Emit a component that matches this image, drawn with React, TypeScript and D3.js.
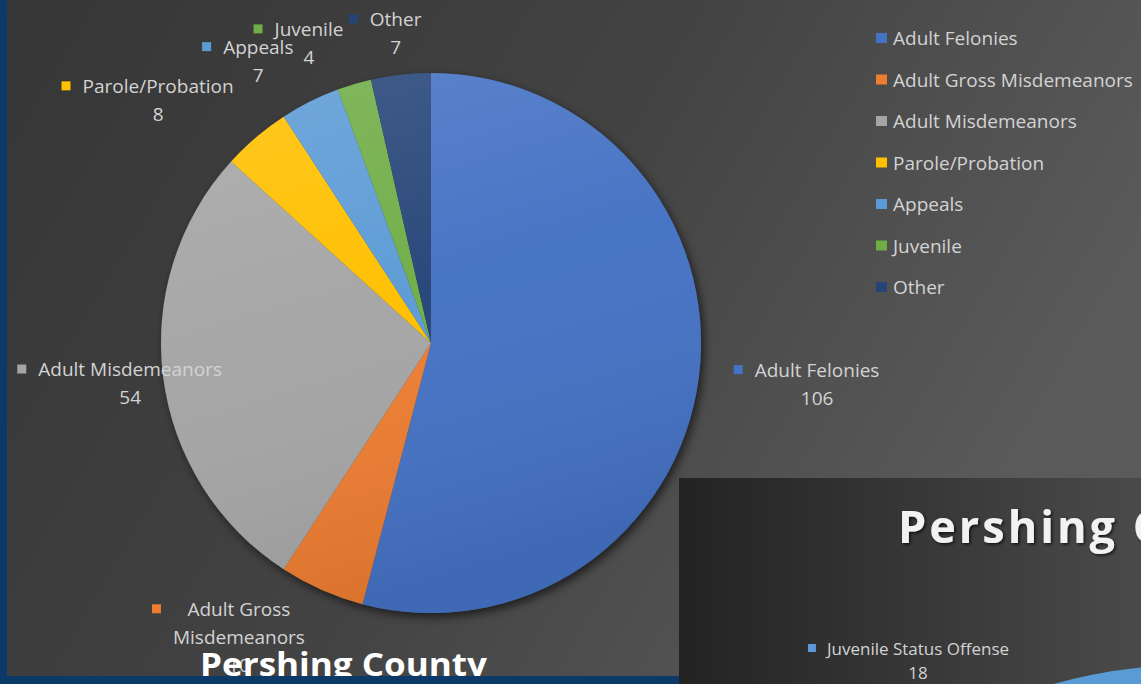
import React, { useEffect, useRef } from 'react';
import * as d3 from 'd3';

// Pershing County caseload by type
const categories = [
  'Adult Felonies',
  'Adult Gross Misdemeanors',
  'Adult Misdemeanors',
  'Parole/Probation',
  'Appeals',
  'Juvenile',
  'Other',
];
const values = [106, 10, 54, 8, 7, 4, 7];
const colors = ['#4472C4', '#ED7D31', '#A5A5A5', '#FFC000', '#5B9BD5', '#70AD47', '#264478'];
// how the data labels wrap, as Excel laid them out
const labelLines = [
  ['Adult Felonies'],
  ['Adult Gross', 'Misdemeanors'],
  ['Adult Misdemeanors'],
  ['Parole/Probation'],
  ['Appeals'],
  ['Juvenile'],
  ['Other'],
];

// second (cut-off) chart on the next slide
const nextCategories = ['Juvenile Status Offense'];
const nextValues = [18];

const W = 1141;
const H = 684;
const FONT = '"Open Sans", "Noto Sans", sans-serif';
const LABEL_SIZE = 19;

// label placement: spread around the slice middle (degrees) and distance from centre
const labelShift = [-3.4, 9.3, 2.4, -6.3, -3.6, -4.7, 0.2];
const labelRadius = [387, 351, 302, 375, 343, 337, 326];

const App = () => {
  const ref = useRef<SVGSVGElement>(null);

  useEffect(() => {
    const svg = d3.select(ref.current);
    svg.selectAll('*').remove();

    const defs = svg.append('defs');
    const bg = defs.append('linearGradient').attr('id', 'bg').attr('x1', 0).attr('y1', 0).attr('x2', 1).attr('y2', 0.35);
    bg.append('stop').attr('offset', 0).attr('stop-color', '#363636');
    bg.append('stop').attr('offset', 0.55).attr('stop-color', '#434343');
    bg.append('stop').attr('offset', 1).attr('stop-color', '#5a5a5a');

    const bg2 = defs.append('linearGradient').attr('id', 'bg2').attr('x1', 0).attr('y1', 0).attr('x2', 1).attr('y2', 0);
    bg2.append('stop').attr('offset', 0).attr('stop-color', '#232323');
    bg2.append('stop').attr('offset', 1).attr('stop-color', '#4a4a4a');

    const shade = defs.append('linearGradient').attr('id', 'shade').attr('x1', 0).attr('y1', 0).attr('x2', 0.3).attr('y2', 1);
    shade.append('stop').attr('offset', 0).attr('stop-color', '#fff').attr('stop-opacity', 0.14);
    shade.append('stop').attr('offset', 0.5).attr('stop-color', '#fff').attr('stop-opacity', 0.02);
    shade.append('stop').attr('offset', 1).attr('stop-color', '#000').attr('stop-opacity', 0.08);

    const shadow = defs.append('filter').attr('id', 'shadow').attr('x', -0.2).attr('y', -0.2).attr('width', 1.4).attr('height', 1.4);
    shadow.append('feDropShadow').attr('dx', 3).attr('dy', 4).attr('stdDeviation', 5)
      .attr('flood-color', '#000').attr('flood-opacity', 0.6);

    const tshadow = defs.append('filter').attr('id', 'tshadow');
    tshadow.append('feDropShadow').attr('dx', 1.5).attr('dy', 1.5).attr('stdDeviation', 1.5)
      .attr('flood-color', '#000').attr('flood-opacity', 0.7);

    // slide frame
    svg.append('rect').attr('width', W).attr('height', H).attr('fill', '#0b3a69');
    svg.append('rect').attr('x', 7).attr('y', 0).attr('width', W - 7).attr('height', 676).attr('fill', 'url(#bg)');
    svg.append('rect').attr('x', 679).attr('y', 676).attr('width', W - 679).attr('height', 8).attr('fill', '#4e4e4e');

    // main pie
    const cx = 431;
    const cy = 343;
    const r = 270;
    const pie = d3.pie<number>().sort(null).value(d => d);
    const arcs = pie(values);
    const arc = d3.arc<d3.PieArcDatum<number>>().innerRadius(0).outerRadius(r);

    const g = svg.append('g').attr('transform', `translate(${cx},${cy})`);
    const slices = g.append('g').attr('filter', 'url(#shadow)');
    slices.selectAll('path')
      .data(arcs)
      .join('path')
      .attr('d', arc)
      .attr('fill', (d, i) => colors[i]);
    g.append('circle').attr('r', r).attr('fill', 'url(#shade)');

    // data labels
    const lineH = 28;
    g.selectAll('g.label')
      .data(arcs)
      .join('g')
      .attr('class', 'label')
      .each(function (d, i) {
        const mid = (d.startAngle + d.endAngle) / 2 + (labelShift[i] * Math.PI) / 180;
        const lx = Math.sin(mid) * labelRadius[i];
        const ly = -Math.cos(mid) * labelRadius[i];
        const lines = labelLines[i];
        const top = ly - (lines.length - 1) * lineH;
        const grp = d3.select(this);
        let maxW = 0;
        lines.forEach((t, k) => {
          const el = grp.append('text')
            .attr('x', lx)
            .attr('y', top + k * lineH)
            .attr('text-anchor', 'middle')
            .attr('dominant-baseline', 'central')
            .attr('font-family', FONT)
            .attr('font-size', LABEL_SIZE)
            .attr('fill', '#d3d3d3')
            .text(t);
          maxW = Math.max(maxW, (el.node() as SVGTextElement).getComputedTextLength());
        });
        grp.append('text')
          .attr('x', lx)
          .attr('y', ly + lineH)
          .attr('text-anchor', 'middle')
          .attr('dominant-baseline', 'central')
          .attr('font-family', FONT)
          .attr('font-size', LABEL_SIZE)
          .attr('fill', '#d3d3d3')
          .text(values[i]);
        grp.append('rect')
          .attr('x', lx - maxW / 2 - 21)
          .attr('y', top - 4.5)
          .attr('width', 9)
          .attr('height', 9)
          .attr('fill', colors[i]);
      });

    // legend
    const legendY = d3.scalePoint<string>().domain(categories).range([38, 287]);
    const legend = svg.append('g');
    categories.forEach((c, i) => {
      const y = legendY(c) as number;
      legend.append('rect').attr('x', 876).attr('y', y - 5).attr('width', 11).attr('height', 10).attr('fill', colors[i]);
      legend.append('text')
        .attr('x', 893)
        .attr('y', y)
        .attr('dominant-baseline', 'central')
        .attr('font-family', FONT)
        .attr('font-size', LABEL_SIZE)
        .attr('fill', '#d3d3d3')
        .text(c);
    });

    // title of this slide
    svg.append('text')
      .attr('x', 200)
      .attr('y', 676)
      .attr('font-family', FONT)
      .attr('font-weight', 700)
      .attr('font-size', 33)
      .attr('fill', '#ffffff')
      .attr('textLength', 287)
      .attr('lengthAdjust', 'spacingAndGlyphs')
      .text('Pershing County');
    svg.append('rect').attr('x', 0).attr('y', 676).attr('width', 679).attr('height', 8).attr('fill', '#0b3a69');

    // next slide peeking in, bottom right
    const p2 = svg.append('g');
    p2.append('rect').attr('x', 679).attr('y', 478).attr('width', W - 679).attr('height', H - 478).attr('fill', 'url(#bg2)');
    p2.append('clipPath').attr('id', 'clip2')
      .append('rect').attr('x', 679).attr('y', 478).attr('width', W - 679).attr('height', H - 478);
    const inner = p2.append('g').attr('clip-path', 'url(#clip2)');
    inner.append('text')
      .attr('x', 898)
      .attr('y', 543)
      .attr('font-family', FONT)
      .attr('font-weight', 700)
      .attr('font-size', 45)
      .attr('letter-spacing', 3)
      .attr('fill', '#f2f2f2')
      .attr('filter', 'url(#tshadow)')
      .text('Pershing County');
    const pie2 = d3.pie<number>().sort(null).value(d => d)(nextValues);
    const arc2 = d3.arc<d3.PieArcDatum<number>>().innerRadius(0).outerRadius(501);
    inner.append('g').attr('transform', 'translate(1190,1166)')
      .selectAll('path').data(pie2).join('path')
      .attr('d', arc2).attr('fill', '#5B9BD5');
    nextCategories.forEach((c, i) => {
      const t = inner.append('text')
        .attr('x', 918)
        .attr('y', 648)
        .attr('text-anchor', 'middle')
        .attr('dominant-baseline', 'central')
        .attr('font-family', FONT)
        .attr('font-size', 17)
        .attr('fill', '#d3d3d3')
        .text(c);
      const tw = (t.node() as SVGTextElement).getComputedTextLength();
      inner.append('rect').attr('x', 918 - tw / 2 - 19).attr('y', 644).attr('width', 8).attr('height', 8).attr('fill', '#5B9BD5');
      inner.append('text')
        .attr('x', 918)
        .attr('y', 672)
        .attr('text-anchor', 'middle')
        .attr('dominant-baseline', 'central')
        .attr('font-family', FONT)
        .attr('font-size', 17)
        .attr('fill', '#d3d3d3')
        .text(nextValues[i]);
    });
  }, []);

  return (
    <svg
      ref={ref}
      width={W}
      height={H}
      style={{ position: 'absolute', left: 0, top: 0, display: 'block' }}
    />
  );
};

export default App;
